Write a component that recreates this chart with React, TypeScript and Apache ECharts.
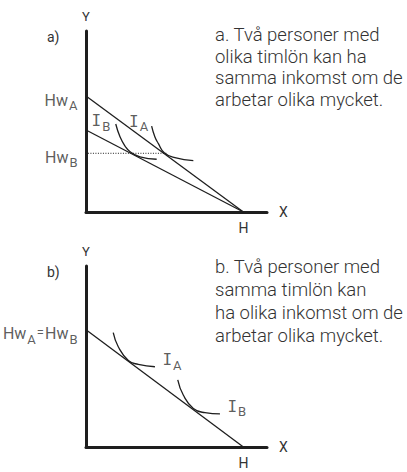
import React, { useEffect, useRef } from "react";
import * as echarts from "echarts";

// Shared scale: hours on X, income on Y. Every budget line meets the X axis at H.
const H = 10;
const X_MAX = 11.5;
const Y_MAX = 11.5;

// Panel a: different hourly wages, same income
const hwA_a = 7.37;
const hwB_a = 5.21;
const sameIncome_a = 3.73;
const dottedStartX = -0.83;
const dottedEndX = 5.1;
const curveIA_a = [
  [4.17, 5.46],
  [4.38, 4.77],
  [4.59, 4.36],
  [4.97, 3.77],
  [5.65, 3.45],
  [6.82, 3.26],
];
const curveIB_a = [
  [1.89, 5.59],
  [2.16, 4.78],
  [2.48, 4.19],
  [2.8, 3.83],
  [3.43, 3.51],
  [4.49, 3.35],
];

// Panel b: same hourly wage, different income
const hw_b = 7.45;
const curveIA_b = [
  [1.73, 7.26],
  [2.05, 6.37],
  [2.69, 5.5],
  [3.32, 5.25],
  [4.38, 5.1],
];
const curveIB_b = [
  [5.83, 4.26],
  [6.18, 3.3],
  [6.82, 2.45],
  [7.56, 2.18],
  [8.51, 2.1],
];

const captionA = [
  "a. Två personer med",
  "olika timlön kan ha",
  "samma inkomst om de",
  "arbetar olika mycket.",
];
const captionB = [
  "b. Två personer med",
  "samma timlön kan",
  "ha olika inkomst om de",
  "arbetar olika mycket.",
];

const FONT = "Roboto, 'Noto Sans', sans-serif";
const SLAB_I = "'DejaVu Sans Mono', 'Liberation Mono', monospace";
const INK = "#1e1e1e";
const TEXT = "#333333";

const rich = {
  m: { fontSize: 16, lineHeight: 16, verticalAlign: "top", color: TEXT, fontFamily: FONT },
  i: { fontSize: 16, lineHeight: 16, verticalAlign: "top", color: TEXT, fontFamily: SLAB_I },
  s: { fontSize: 13, lineHeight: 14, padding: [11, 0, 0, 1], color: TEXT, fontFamily: FONT },
  e: { fontSize: 13, lineHeight: 16, verticalAlign: "top", padding: [0, 1, 0, 1], color: TEXT, fontFamily: FONT },
};

function axes(gridIndex: number) {
  const lineStyle = { color: INK, width: 3 };
  return {
    x: {
      type: "value",
      gridIndex,
      min: 0,
      max: X_MAX,
      interval: H,
      name: "X",
      nameLocation: "end",
      nameGap: 12,
      nameTextStyle: { fontSize: 14, color: TEXT, fontFamily: FONT },
      axisLine: { show: true, lineStyle },
      axisTick: { show: false },
      splitLine: { show: false },
      axisLabel: {
        margin: 9,
        fontSize: 14,
        color: TEXT,
        fontFamily: FONT,
        formatter: (v: number) => (v === H ? "H" : ""),
      },
    },
    y: {
      type: "value",
      gridIndex,
      min: 0,
      max: Y_MAX,
      name: "Y",
      nameLocation: "end",
      nameGap: 8,
      nameTextStyle: { fontSize: 13, color: TEXT, fontFamily: FONT },
      axisLine: { show: true, lineStyle },
      axisTick: { show: false },
      splitLine: { show: false },
      axisLabel: { show: false },
    },
  };
}

function line(idx: number, data: number[][], extra: any = {}) {
  return {
    type: "line",
    xAxisIndex: idx,
    yAxisIndex: idx,
    data,
    symbol: "none",
    silent: true,
    lineStyle: { color: INK, width: 1.3 },
    ...extra,
  };
}

function curve(idx: number, data: number[][]) {
  return line(idx, data, { smooth: 0.5 });
}

function labels(idx: number, items: any[]) {
  return {
    type: "scatter",
    xAxisIndex: idx,
    yAxisIndex: idx,
    symbolSize: 1,
    silent: true,
    itemStyle: { color: "rgba(0,0,0,0)" },
    data: items.map((it) => ({
      value: it.at,
      label: {
        show: true,
        formatter: it.text,
        position: it.pos,
        distance: it.dist,
        offset: it.offset,
        rich,
      },
    })),
  };
}

export default function App() {
  const ref = useRef<HTMLDivElement>(null);

  useEffect(() => {
    if (!ref.current) return;
    const chart = echarts.init(ref.current, null, { renderer: "svg" });
    const a = axes(0);
    const b = axes(1);

    const option = {
      animation: false,
      backgroundColor: "#ffffff",
      grid: [
        { left: 86, top: 31, width: 181, height: 181 },
        { left: 86, top: 266, width: 181, height: 181 },
      ],
      xAxis: [a.x, b.x],
      yAxis: [a.y, b.y],
      series: [
        // Panel a
        line(0, [[0, hwA_a], [H, 0]]),
        line(0, [[0, hwB_a], [H, 0]]),
        line(
          0,
          [
            [dottedStartX, sameIncome_a],
            [dottedEndX, sameIncome_a],
          ],
          { clip: false, lineStyle: { color: INK, width: 1, type: [1, 1.5] } }
        ),
        curve(0, curveIA_a),
        curve(0, curveIB_a),
        labels(0, [
          { at: [0, hwA_a], text: "{m|Hw}{s|A}", pos: "left", dist: 8, offset: [0, 4] },
          { at: [0, sameIncome_a], text: "{m|Hw}{s|B}", pos: "left", dist: 8, offset: [0, 4] },
          { at: curveIB_a[0], text: "{i|I}{s|B}", pos: "left", dist: 5, offset: [0, -3.5] },
          { at: curveIA_a[0], text: "{i|I}{s|A}", pos: "left", dist: 3, offset: [0, -5] },
        ]),
        // Panel b
        line(1, [[0, hw_b], [H, 0]]),
        curve(1, curveIA_b),
        curve(1, curveIB_b),
        labels(1, [
          { at: [0, hw_b], text: "{m|Hw}{s|A}{e|=}{m|Hw}{s|B}", pos: "left", dist: 8, offset: [0, 4] },
          { at: curveIA_b[curveIA_b.length - 1], text: "{i|I}{s|A}", pos: "right", dist: 7, offset: [0, -7] },
          { at: curveIB_b[curveIB_b.length - 1], text: "{i|I}{s|B}", pos: "right", dist: 7, offset: [0, -7.5] },
        ]),
      ],
      graphic: [
        {
          type: "text",
          left: 47,
          top: 30,
          style: { text: "a)", fontSize: 14, fill: TEXT, fontFamily: FONT },
        },
        {
          type: "text",
          left: 47,
          top: 265,
          style: { text: "b)", fontSize: 14, fill: TEXT, fontFamily: FONT },
        },
        {
          type: "text",
          left: 215,
          top: 24,
          style: {
            text: captionA.join("\n"),
            fontSize: 18.5,
            fontWeight: 300,
            lineHeight: 21.7,
            fill: TEXT,
            fontFamily: FONT,
          },
        },
        {
          type: "text",
          left: 215,
          top: 255,
          style: {
            text: captionB.join("\n"),
            fontSize: 18.5,
            fontWeight: 300,
            lineHeight: 23,
            fill: TEXT,
            fontFamily: FONT,
          },
        },
      ],
    };

    chart.setOption(option as any);
    return () => chart.dispose();
  }, []);

  return (
    <div
      ref={ref}
      style={{ position: "absolute", left: 0, top: 0, width: 407, height: 472 }}
    />
  );
}
